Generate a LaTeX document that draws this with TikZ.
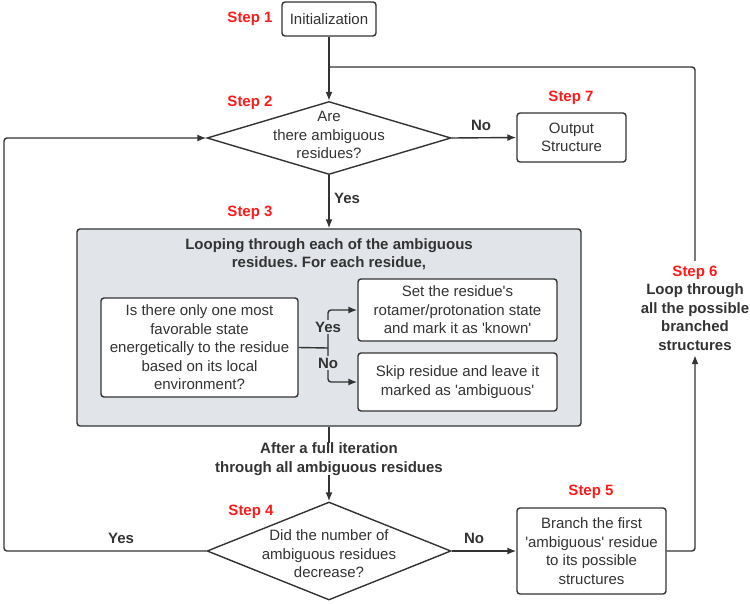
\documentclass[tikz,border=0pt]{standalone}
\usepackage{fontspec}
\setmainfont{Liberation Sans}
\usetikzlibrary{shapes.geometric,arrows.meta}
\definecolor{ink}{HTML}{333333}
\definecolor{panel}{HTML}{E1E4E8}
\definecolor{stepred}{HTML}{FF1A1A}
\newcommand{\q}{\textquotesingle}
\frenchspacing
\begin{document}
\begin{tikzpicture}[x=1pt,y=-1pt,
  font=\fontsize{15}{18.5}\selectfont,
  conn/.style={draw=ink,line width=1.4pt},
  arr/.style={conn,-{Latex[length=9pt,width=7pt]}},
  boxn/.style={draw=ink,line width=1.4pt,rounded corners=3pt,fill=white,align=center,text=ink,inner sep=0pt},
  dia/.style={draw=ink,line width=1.4pt,diamond,fill=white,inner sep=0pt},
  txt/.style={align=center,text=ink,inner sep=0pt},
  lbl/.style={align=center,text=ink,font=\fontsize{15}{18.5}\selectfont\bfseries,inner sep=1pt},
  steplbl/.style={text=stepred,font=\fontsize{15}{18.5}\selectfont\bfseries,inner sep=0pt}]
\useasboundingbox (0,0) rectangle (750,603);

% gray panel
\node[draw=ink,line width=1.4pt,rounded corners=3pt,fill=panel,minimum width=504pt,minimum height=197pt,inner sep=0pt] (panel) at (329,327.5) {};
\node[lbl,inner sep=0pt] (ptitle) at (329,254) {Looping through each of the ambiguous\\residues. For each residue,};

% top part
\node[boxn,minimum width=94pt,minimum height=34pt] (init) at (329,19) {Initialization};
\node[steplbl] (s1) at (250,19) {Step 1};

\node[dia,minimum width=244pt,minimum height=73pt] (d1) at (329,138) {};
\node[txt] (d1t) at (329,135) {Are\\there ambiguous\\residues?};
\node[steplbl] (s2) at (250,103) {Step 2};

\node[boxn,minimum width=109pt,minimum height=49pt] (out) at (571.5,137.5) {Output\\Structure};
\node[steplbl] (s7) at (571,98) {Step 7};
\node[lbl] (no1) at (481,125) {No};
\node[lbl] (yes1) at (347,198) {Yes};
\node[steplbl] (s3) at (250,213) {Step 3};

% inner boxes
\node[boxn,minimum width=197pt,minimum height=99pt] (L) at (199.5,347.5) {Is there only one most\\favorable state\\energetically to the residue\\based on its local\\environment?};
\node[boxn,minimum width=199pt,minimum height=62pt] (U) at (457.5,310) {Set the residue\q s\\rotamer/protonation state\\and mark it as \q known\q};
\node[boxn,minimum width=199pt,minimum height=58pt] (D) at (457.5,382) {Skip residue and leave it\\marked as \q ambiguous\q};
\coordinate (jn) at (328,348);

% lower part
\node[lbl,inner sep=0pt] (after) at (329,459) {After a full iteration\\through all ambiguous residues};
\node[dia,minimum width=244pt,minimum height=98pt] (d2) at (329,551) {};
\node[txt] (d2t) at (329,554) {Did the number of\\ambiguous residues\\decrease?};
\node[steplbl] (s4) at (251,512) {Step 4};
\node[lbl] (yes2) at (121,538) {Yes};
\node[lbl] (no2) at (474,538) {No};

\node[boxn,minimum width=149pt,minimum height=86pt] (b5) at (591.5,551) {Branch the first\\\q ambiguous\q{} residue\\to its possible\\structures};
\node[steplbl] (s5) at (591,492) {Step 5};

\node[align=center,text=ink,font=\fontsize{15}{18.5}\selectfont\bfseries,inner sep=0pt,minimum height=94pt] (s6) at (695,308) {\textcolor{stepred}{Step 6}\\Loop through\\all the possible\\branched\\structures};

% connectors
\coordinate (j1) at (329,67);
\coordinate (lx) at (4,551);
\coordinate (rx) at (695,551);
\draw[arr] (init.south) -- (d1.north);
\draw[conn,rounded corners=3pt] (s6.north) -- (695,67) -- (j1);
\draw[arr] (d1.east) -- (out.west);
\draw[arr] (d1.south) -- (panel.north);
\draw[conn] (panel.south) -- (after.north);
\draw[arr] (after.south) -- (d2.north);
\draw[arr,rounded corners=3pt] (d2.west) -- (lx) |- (d1.west);
\draw[arr] (d2.east) -- (b5.west);
\draw[arr,rounded corners=3pt] (b5.east) -- (rx) -- (s6.south);
\draw[conn] (L.east) -- (jn);
\draw[arr,rounded corners=3pt] (jn) |- (U.west);
\draw[arr,rounded corners=3pt] (jn) |- (D.west);
\node[lbl,fill=panel,inner sep=1.5pt] (yesin) at (328,327) {Yes};
\node[lbl,fill=panel,inner sep=1.5pt] (noin) at (328,363) {No};
\end{tikzpicture}
\end{document}
